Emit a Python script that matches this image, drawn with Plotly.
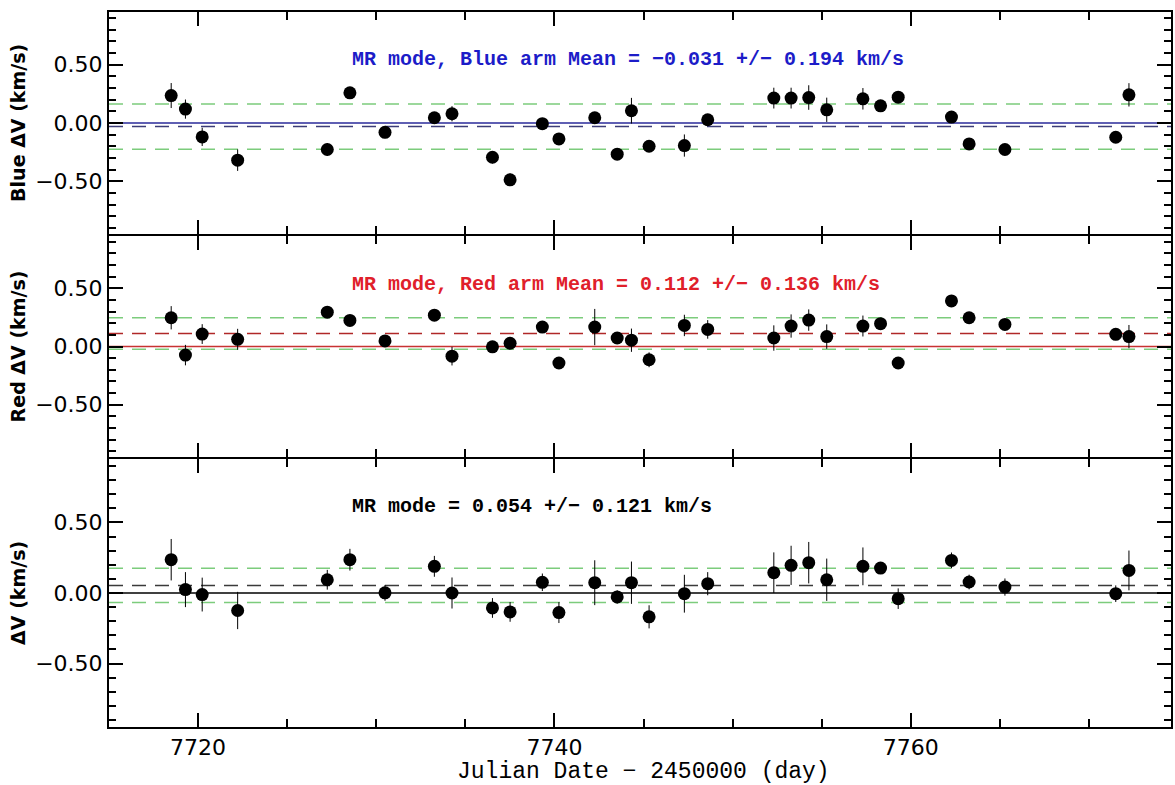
import plotly.graph_objects as go

# ---------------- data ----------------
days = [7718.49, 7719.29, 7720.23, 7722.22, 7727.25, 7728.52, 7730.49, 7733.26,
        7734.25, 7736.52, 7737.51, 7739.32, 7740.25, 7742.26, 7743.52, 7744.32,
        7745.31, 7747.29, 7748.60, 7752.31, 7753.28, 7754.27, 7755.28, 7757.31,
        7758.30, 7759.29, 7762.28, 7763.27, 7765.28, 7771.50, 7772.24]

blue_dv = [0.235, 0.119, -0.119, -0.318, -0.227, 0.258, -0.080, 0.045,
           0.079, -0.293, -0.486, -0.006, -0.136, 0.045, -0.267, 0.105,
           -0.199, -0.193, 0.028, 0.213, 0.213, 0.218, 0.113, 0.207,
           0.147, 0.221, 0.051, -0.179, -0.227, -0.122, 0.241]
blue_err = [0.107, 0.082, 0.078, 0.092, 0.054, 0.043, 0.050, 0.045,
            0.065, 0.053, 0.053, 0.035, 0.038, 0.043, 0.043, 0.110,
            0.047, 0.095, 0.043, 0.089, 0.089, 0.105, 0.104, 0.092,
            0.040, 0.050, 0.036, 0.043, 0.047, 0.040, 0.100]

red_dv = [0.247, -0.074, 0.107, 0.062, 0.295, 0.224, 0.048, 0.269,
          -0.083, -0.003, 0.028, 0.167, -0.142, 0.167, 0.073, 0.054,
          -0.114, 0.181, 0.147, 0.073, 0.176, 0.227, 0.085, 0.176,
          0.196, -0.142, 0.392, 0.247, 0.190, 0.105, 0.085]
red_err = [0.100, 0.088, 0.085, 0.090, 0.040, 0.045, 0.040, 0.050,
           0.080, 0.040, 0.040, 0.040, 0.045, 0.156, 0.045, 0.100,
           0.064, 0.092, 0.080, 0.109, 0.100, 0.092, 0.105, 0.090,
           0.040, 0.040, 0.040, 0.045, 0.045, 0.040, 0.100]

all_dv = [0.236, 0.024, -0.011, -0.124, 0.094, 0.236, 0.001, 0.189,
          0.000, -0.106, -0.134, 0.076, -0.139, 0.073, -0.028, 0.073,
          -0.169, -0.005, 0.066, 0.144, 0.196, 0.215, 0.094, 0.189,
          0.177, -0.040, 0.231, 0.078, 0.042, -0.005, 0.160]
all_err = [0.147, 0.124, 0.120, 0.132, 0.070, 0.077, 0.056, 0.074,
           0.110, 0.070, 0.070, 0.062, 0.074, 0.159, 0.047, 0.150,
           0.082, 0.134, 0.082, 0.144, 0.139, 0.147, 0.150, 0.134,
           0.040, 0.073, 0.056, 0.052, 0.061, 0.059, 0.141]

panel_means = [-0.031, 0.112, 0.054]
panel_stds = [0.194, 0.136, 0.121]
panel_labels = ["MR mode, Blue arm Mean = \u22120.031 +/\u2212 0.194 km/s",
                "MR mode, Red arm Mean = 0.112 +/\u2212 0.136 km/s",
                "MR mode = 0.054 +/\u2212 0.121 km/s"]
y_titles = ["Blue \u0394V (km/s)", "Red \u0394V (km/s)", "\u0394V (km/s)"]
x_title = "Julian Date \u2212 2450000 (day)"
x_range = [7715.0, 7774.6]
y_range = [-0.95, 0.95]

# ---------------- styles ----------------
text_colors = ["#1c1cc8", "#e0202a", "#000000"]
zero_colors = ["#2a2a9a", "#c83232", "#000000"]
mean_colors = ["#3c3c78", "#b02828", "#3a3a3a"]
green = "#7ccc7c"
H = 715.0
b1 = (727 - 235) / H
b2 = (727 - 458) / H
px = 1.0 / H
domains = [[b1 + px, 1.0], [b2 + px, b1 - px], [0.0, b2 - px]]
mono = "Liberation Mono, Courier New, monospace"

series = [(blue_dv, blue_err), (red_dv, red_err), (all_dv, all_err)]

fig = go.Figure()
for i, (vals, errs) in enumerate(series):
    k = "" if i == 0 else str(i + 1)
    fig.add_trace(go.Scatter(
        x=days, y=vals, mode="markers",
        xaxis="x" + k, yaxis="y" + k,
        marker=dict(color="black", size=13, symbol="circle"),
        error_y=dict(type="data", array=errs, visible=True,
                     color="black", thickness=1, width=0),
        showlegend=False, hoverinfo="x+y"))

layout = dict(width=1175, height=785, paper_bgcolor="white",
              plot_bgcolor="white", showlegend=False,
              margin=dict(l=109, r=2, t=12, b=58))
shapes = []
annotations = []
for i in range(3):
    k = "" if i == 0 else str(i + 1)
    xa = dict(domain=[0, 1], range=x_range, anchor="y" + k,
              showgrid=False, zeroline=False, showline=True, linecolor="black",
              linewidth=2, mirror="allticks", ticks="inside", tick0=7720,
              dtick=20, ticklen=14, tickwidth=1.5, tickcolor="black",
              minor=dict(dtick=5, ticks="inside", ticklen=8, tickwidth=1.5,
                         tickcolor="black", showgrid=False),
              showticklabels=(i == 2),
              tickfont=dict(family="DejaVu Sans", size=22, color="black"))
    if i < 2:
        xa["matches"] = "x3"
    ya = dict(domain=domains[i], range=y_range, anchor="x" + k,
              showgrid=False, zeroline=False, showline=True, linecolor="black",
              linewidth=2, mirror="allticks", ticks="inside", tick0=0,
              dtick=0.5, ticklen=14, tickwidth=1.5, tickcolor="black",
              tickformat=".2f",
              minor=dict(dtick=0.1, ticks="inside", ticklen=7, tickwidth=1.5,
                         tickcolor="black", showgrid=False),
              tickfont=dict(family="DejaVu Sans", size=22, color="black"))
    layout["xaxis" + k] = xa
    layout["yaxis" + k] = ya

    m, s = panel_means[i], panel_stds[i]
    xr, yr = "x" + k + " domain", "y" + k
    for yv, col, dash, w in [(m + s, green, "14px,9px", 1.5),
                             (m - s, green, "14px,9px", 1.5),
                             (m, mean_colors[i], "14px,9px", 1.5),
                             (0.0, zero_colors[i], "solid", 1.3)]:
        shapes.append(dict(type="line", xref=xr, yref=yr, x0=0, x1=1,
                           y0=yv, y1=yv, layer="below",
                           line=dict(color=col, width=w, dash=dash)))

    annotations.append(dict(text=panel_labels[i], xref=xr, yref="y" + k + " domain",
                            x=0.227, y=[0.785, 0.782, 0.822][i],
                            xanchor="left", yanchor="middle", showarrow=False,
                            font=dict(family=mono, size=20, color=text_colors[i],
                                      weight="bold")))
    annotations.append(dict(text=y_titles[i], xref="paper", yref="y" + k + " domain",
                            x=-0.0858, y=0.5, textangle=-90,
                            xanchor="center", yanchor="middle", showarrow=False,
                            font=dict(family="DejaVu Sans, sans-serif",
                                      size=19, color="black", weight="bold")))

annotations.append(dict(text=x_title, xref="paper", yref="paper", x=0.5036,
                        y=-0.063, xanchor="center", yanchor="middle",
                        showarrow=False,
                        font=dict(family=mono, size=23, color="black")))
layout["shapes"] = shapes
layout["annotations"] = annotations
fig.update_layout(**layout)
fig.write_html("out.html", config={"responsive": False, "displayModeBar": False},
               post_script="document.body.style.margin='0px';")
